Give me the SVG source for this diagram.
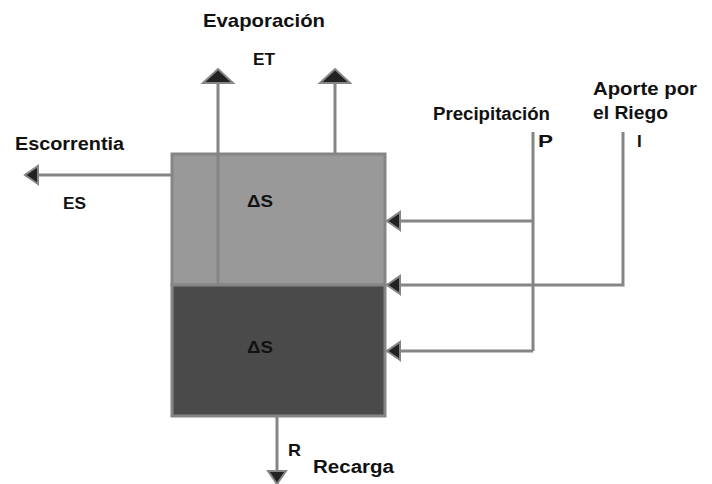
<svg xmlns="http://www.w3.org/2000/svg" width="712" height="484" viewBox="0 0 712 484">
<style>
.t{font-family:"Liberation Sans",Arial,sans-serif;font-weight:bold;fill:#111;}
.c{fill:none;stroke:#858585;stroke-width:3;}
.box{stroke:#858585;stroke-width:3;}
</style>
<defs>
<marker id="ah" markerUnits="userSpaceOnUse" orient="auto" refX="13" refY="0" overflow="visible">
<path d="M0,-9 L13,0 L0,9 z" fill="#222" stroke="#858585" stroke-width="2"/>
</marker>
<marker id="ahw" markerUnits="userSpaceOnUse" orient="auto" refX="14" refY="0" overflow="visible">
<path d="M0,-15 L14,0 L0,15 z" fill="#222" stroke="#858585" stroke-width="2"/>
</marker>
</defs>
<rect width="712" height="484" fill="#fff"/>
<g id="soil-upper">
<rect class="box" x="172" y="154" width="213" height="131" fill="#999"/>
<text class="t" x="247" y="207" font-size="17" textLength="26" lengthAdjust="spacingAndGlyphs">ΔS</text>
</g>
<g id="soil-lower">
<rect class="box" x="172" y="285" width="213" height="131" fill="#4a4a4a"/>
<text class="t" x="247" y="353" font-size="17" textLength="26" lengthAdjust="spacingAndGlyphs">ΔS</text>
</g>
<g id="connectors">
<path class="c" d="M218,285 V69" marker-end="url(#ahw)"/>
<path class="c" d="M335,154 V69" marker-end="url(#ahw)"/>
<path class="c" d="M172,175 H25" marker-end="url(#ah)"/>
<path class="c" d="M533,132 V351"/>
<path class="c" d="M533,221 H387" marker-end="url(#ah)"/>
<path class="c" d="M533,351 H387" marker-end="url(#ah)"/>
<path class="c" d="M623,132 V285 H387" marker-end="url(#ah)"/>
<path class="c" d="M277,417 V484" marker-end="url(#ah)"/>
</g>
<g id="evaporacion">
<text class="t" x="203" y="27" font-size="19" textLength="122" lengthAdjust="spacingAndGlyphs">Evaporación</text>
<text class="t" x="253" y="65" font-size="17" textLength="22" lengthAdjust="spacingAndGlyphs">ET</text>
</g>
<g id="escorrentia">
<text class="t" x="15" y="150" font-size="18" textLength="109" lengthAdjust="spacingAndGlyphs">Escorrentia</text>
<text class="t" x="63" y="209" font-size="17" textLength="23" lengthAdjust="spacingAndGlyphs">ES</text>
</g>
<g id="precipitacion">
<text class="t" x="433" y="120" font-size="18" textLength="117" lengthAdjust="spacingAndGlyphs">Precipitación</text>
<text class="t" x="538" y="147" font-size="17" textLength="15" lengthAdjust="spacingAndGlyphs">P</text>
</g>
<g id="riego">
<text class="t" x="593" y="95" font-size="18" textLength="104" lengthAdjust="spacingAndGlyphs">Aporte por</text>
<text class="t" x="593" y="119" font-size="18" textLength="75" lengthAdjust="spacingAndGlyphs">el Riego</text>
<text class="t" x="637" y="147" font-size="17">I</text>
</g>
<g id="recarga">
<text class="t" x="288" y="456" font-size="17" textLength="13" lengthAdjust="spacingAndGlyphs">R</text>
<text class="t" x="313" y="473" font-size="18" textLength="81" lengthAdjust="spacingAndGlyphs">Recarga</text>
</g>
</svg>
